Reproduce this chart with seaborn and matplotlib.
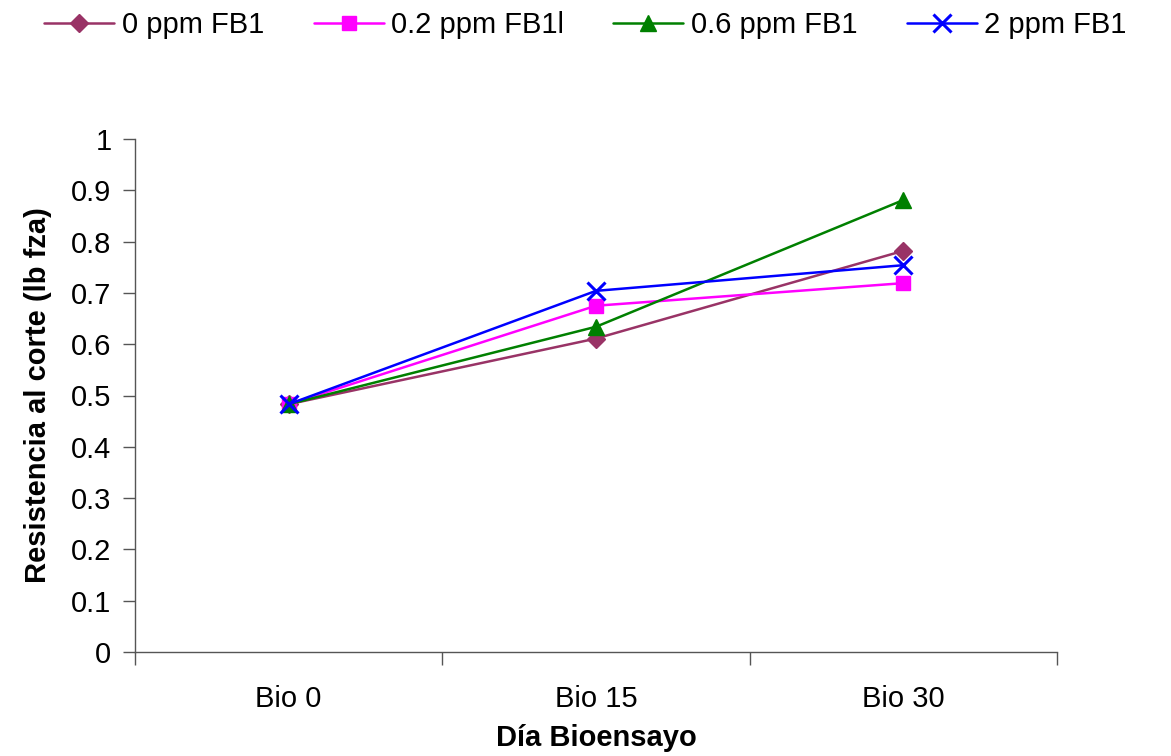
import matplotlib
matplotlib.use("Agg")
import matplotlib.pyplot as plt
import seaborn as sns
import pandas as pd
import numpy as np

categories = ["Bio 0", "Bio 15", "Bio 30"]
series_names = ["0 ppm FB1", "0.2 ppm FB1l", "0.6 ppm FB1", "2 ppm FB1"]
v0 = [0.483, 0.611, 0.782]
v02 = [0.483, 0.675, 0.719]
v06 = [0.483, 0.634, 0.881]
v2 = [0.483, 0.704, 0.754]
values = [v0, v02, v06, v2]
colors = ["#993366", "#FF00FF", "#008000", "#0000FF"]
markers = ["D", "s", "^", "x"]
msizes = [9, 10, 12, 13]

sns.set_theme(style="white")
plt.rcParams['font.family'] = ['Liberation Sans', 'DejaVu Sans']
plt.rcParams['text.color'] = 'black'
plt.rcParams['axes.labelcolor'] = 'black'
plt.rcParams['xtick.color'] = 'black'
plt.rcParams['ytick.color'] = 'black'

rows = []
for name, vals in zip(series_names, values):
    for i, (c, v) in enumerate(zip(categories, vals)):
        rows.append({"series": name, "pos": i, "cat": c, "value": v})
df = pd.DataFrame(rows)

fig = plt.figure(figsize=(11.71, 7.56), dpi=100)
ax = fig.add_axes([135/1171, 1-652/756, (1057-135)/1171, (652-139)/756])

for name, col, mk, ms in zip(series_names, colors, markers, msizes):
    sub = df[df["series"] == name]
    sns.lineplot(data=sub, x="pos", y="value", ax=ax, color=col, marker=mk,
                 markersize=ms, markeredgecolor=col, markerfacecolor=col,
                 markeredgewidth=2.2 if mk == "x" else 1, linewidth=1.8,
                 label=name, legend=False)

ax.set_xlim(-0.5, 2.5)
ax.set_ylim(0, 1)
ax.set_yticks(np.arange(0, 1.01, 0.1))
ax.set_yticklabels(["0", "0.1", "0.2", "0.3", "0.4", "0.5", "0.6", "0.7", "0.8", "0.9", "1"])
ax.set_xticks(range(len(categories)))
ax.set_xticklabels(categories)
ax.set_xticks([-0.5, 0.5, 1.5, 2.5], minor=True)
ax.tick_params(axis="x", which="major", length=0, pad=24, labelsize=21)
ax.tick_params(axis="x", which="minor", length=9, width=1, color="#555555", direction="out", bottom=True)
ax.tick_params(axis="y", length=9, width=1, color="#555555", direction="out", left=True, labelsize=21, pad=8)

for s in ["top", "right"]:
    ax.spines[s].set_visible(False)
for s in ["left", "bottom"]:
    ax.spines[s].set_color("#555555")
    ax.spines[s].set_linewidth(1)

ax.set_xlabel("Día Bioensayo", fontsize=21, fontweight="bold", labelpad=8)
ax.set_ylabel("Resistencia al corte (lb fza)", fontsize=21, fontweight="bold", labelpad=14)

handles, labels = ax.get_legend_handles_labels()
fig.legend(handles, labels, loc="upper center", bbox_to_anchor=(0.5, 1.02), ncol=4,
           frameon=False, fontsize=21, handlelength=2.4, columnspacing=1.7, handletextpad=0.25)

fig.savefig("out.png", dpi=100)
